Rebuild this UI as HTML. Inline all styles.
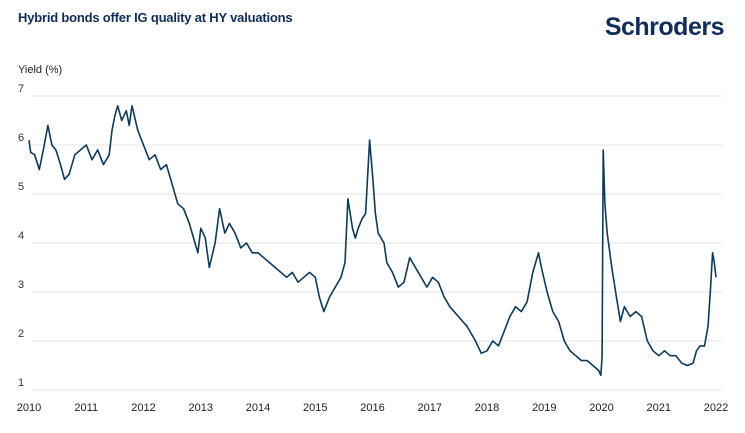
<!DOCTYPE html>
<html><head><meta charset="utf-8"><style>
body{margin:0;background:#fff;width:745px;height:428px;overflow:hidden;font-family:"Liberation Sans",sans-serif;}
svg text{font-family:"Liberation Sans",sans-serif;}
</style></head><body>
<svg id="chart" width="745" height="428" viewBox="0 0 745 428">
<text x="18" y="22" font-size="13" font-weight="bold" fill="#0f2c5a" letter-spacing="-0.2">Hybrid bonds offer IG quality at HY valuations</text>
<text x="724" y="35" text-anchor="end" font-size="25" font-weight="bold" fill="#0f2c5a" letter-spacing="-0.5">Schroders</text>
<text x="18" y="73" font-size="11" fill="#222">Yield (%)</text>
<g id="grid"></g><g id="yt"></g><g id="xt"></g>
<path id="line" fill="none" stroke="#0d3a5c" stroke-width="1.6" stroke-linejoin="round"/>
</svg>
<script>
const yTicks=[1,2,3,4,5,6,7];
const xTicks=[2010,2011,2012,2013,2014,2015,2016,2017,2018,2019,2020,2021,2022];
const dates=[2010.0,2010.03,2010.1,2010.18,2010.25,2010.33,2010.4,2010.47,2010.55,2010.62,2010.7,2010.8,2010.9,2011.0,2011.1,2011.2,2011.3,2011.4,2011.45,2011.5,2011.55,2011.62,2011.7,2011.75,2011.8,2011.9,2012.0,2012.1,2012.2,2012.3,2012.4,2012.5,2012.6,2012.7,2012.8,2012.9,2012.95,2013.0,2013.08,2013.15,2013.25,2013.33,2013.42,2013.5,2013.6,2013.7,2013.8,2013.9,2014.0,2014.1,2014.2,2014.3,2014.4,2014.5,2014.6,2014.7,2014.8,2014.9,2015.0,2015.07,2015.15,2015.25,2015.35,2015.45,2015.52,2015.57,2015.65,2015.7,2015.75,2015.82,2015.88,2015.95,2016.0,2016.05,2016.1,2016.2,2016.25,2016.35,2016.45,2016.55,2016.65,2016.75,2016.85,2016.95,2017.05,2017.15,2017.25,2017.35,2017.5,2017.65,2017.8,2017.9,2018.0,2018.1,2018.2,2018.3,2018.4,2018.5,2018.6,2018.7,2018.8,2018.9,2018.95,2019.05,2019.15,2019.25,2019.35,2019.45,2019.55,2019.65,2019.75,2019.85,2019.95,2019.99,2020.01,2020.03,2020.06,2020.1,2020.18,2020.26,2020.33,2020.4,2020.5,2020.6,2020.7,2020.8,2020.9,2021.0,2021.1,2021.2,2021.3,2021.4,2021.5,2021.6,2021.66,2021.72,2021.8,2021.86,2021.9,2021.94,2021.97,2022.0];
const yields=[6.1,5.85,5.8,5.5,5.9,6.4,6.0,5.9,5.6,5.3,5.4,5.8,5.9,6.0,5.7,5.9,5.6,5.8,6.3,6.6,6.8,6.5,6.7,6.4,6.8,6.3,6.0,5.7,5.8,5.5,5.6,5.2,4.8,4.7,4.4,4.0,3.8,4.3,4.1,3.5,4.0,4.7,4.2,4.4,4.2,3.9,4.0,3.8,3.8,3.7,3.6,3.5,3.4,3.3,3.4,3.2,3.3,3.4,3.3,2.9,2.6,2.9,3.1,3.3,3.6,4.9,4.3,4.1,4.3,4.5,4.6,6.1,5.4,4.6,4.2,4.0,3.6,3.4,3.1,3.2,3.7,3.5,3.3,3.1,3.3,3.2,2.9,2.7,2.5,2.3,2.0,1.75,1.8,2.0,1.9,2.2,2.5,2.7,2.6,2.8,3.4,3.8,3.5,3.0,2.6,2.4,2.0,1.8,1.7,1.6,1.6,1.5,1.4,1.3,1.7,5.9,4.8,4.2,3.5,2.9,2.4,2.7,2.5,2.6,2.5,2.0,1.8,1.7,1.8,1.7,1.7,1.55,1.5,1.55,1.8,1.9,1.9,2.3,3.0,3.8,3.6,3.3];
const svg=document.getElementById('chart');const NS='http://www.w3.org/2000/svg';
const X0=29,X1=716,Y7=96,Y1=390;
const xs=d=>X0+(d-2010)/12*(X1-X0);
const ys=v=>Y1-(v-1)/6*(Y1-Y7);
function mk(t,a,p){const e=document.createElementNS(NS,t);for(const k in a)e.setAttribute(k,a[k]);document.getElementById(p).appendChild(e);return e;}
yTicks.forEach(v=>{
 const l=mk('line',{x1:32,x2:722,y1:ys(v),y2:ys(v),stroke:'#e3e3e3','stroke-width':1},'grid');
 
 
 const t=mk('text',{x:18,y:ys(v)-4,'font-size':11,fill:'#333'},'yt');t.textContent=v;
 
 
});
xTicks.forEach(v=>{
 const t=mk('text',{x:xs(v),y:411,'font-size':11,fill:'#222','text-anchor':'middle'},'xt');t.textContent=v;
 
 
});
document.getElementById('line').setAttribute('d',dates.map((d,i)=>(i?'L':'M')+xs(d).toFixed(1)+','+ys(yields[i]).toFixed(1)).join(''));
</script>
</body></html>
